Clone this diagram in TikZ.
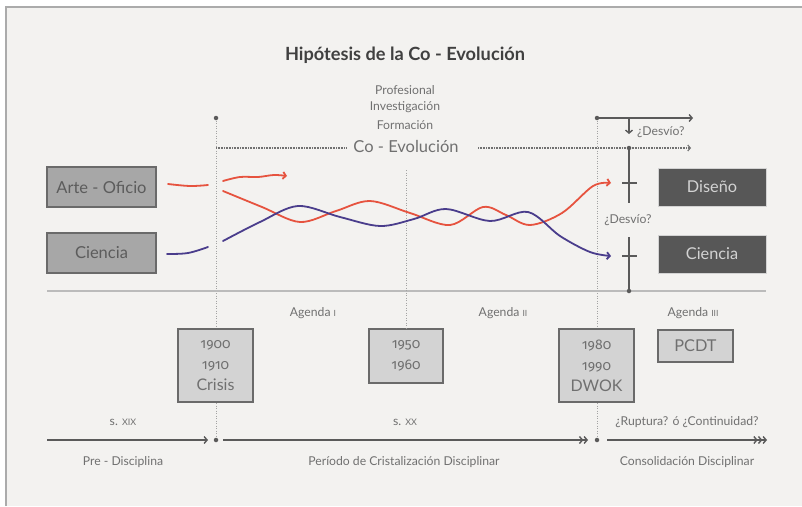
\documentclass[tikz,border=0pt]{standalone}
\usepackage{fontspec}
\setmainfont{Lato}
\newfontfamily\oldfig{Fira Sans}[RawFeature=+onum]
\usetikzlibrary{arrows.meta}

\definecolor{bg}{HTML}{F3F2F0}
\definecolor{framec}{HTML}{ABABAB}
\definecolor{ink}{HTML}{5C5C5C}
\definecolor{soft}{HTML}{707070}
\definecolor{titlec}{HTML}{404040}
\definecolor{redc}{HTML}{E6533F}
\definecolor{bluec}{HTML}{4A3D8C}
\definecolor{boxmid}{HTML}{A7A7A7}
\definecolor{boxlight}{HTML}{D3D3D3}
\definecolor{boxdark}{HTML}{575757}
\definecolor{boxedge}{HTML}{6A6A6A}
\definecolor{dotc}{HTML}{A3A3A3}
\definecolor{linec}{HTML}{5A5A5A}
\definecolor{rulec}{HTML}{BBBBBB}

\newcommand{\fs}[2]{\fontsize{#1}{#2}\selectfont}

\tikzset{
  midbox/.style={draw=boxedge, line width=1.4pt, fill=boxmid, text=ink,
    minimum width=109pt, minimum height=40pt, inner sep=0pt, font=\fs{16.5}{18}},
  darkbox/.style={draw=boxlight, line width=0.8pt, fill=boxdark, text=boxlight,
    minimum width=108pt, minimum height=38pt, inner sep=0pt, font=\fs{16.3}{18}},
  yearbox/.style={draw=boxedge, line width=1.4pt, fill=boxlight, text=soft,
    minimum width=75pt, inner sep=0pt, align=center, font=\oldfig\fs{14}{21}},
  lbl/.style={text=soft, inner sep=0pt, font=\fs{12.2}{14}},
  vdots/.style={dotc, line width=0.9pt, dash pattern=on 0.9pt off 1.6pt},
  hdots/.style={soft, line width=1.1pt, dash pattern=on 0.8pt off 0.8pt},
  solidline/.style={linec, line width=1.4pt},
  barb/.style={-{Straight Barb[length=3pt,width=7pt]}},
  curve/.style={line width=1.8pt, line cap=round},
  pin/.style={circle, fill=linec, inner sep=0pt, minimum size=4.5pt},
}

\begin{document}
\begin{tikzpicture}[x=1pt,y=-1pt]
  % canvas and frame
  \useasboundingbox (0,0) rectangle (802,506);
  \fill[white] (0,0) rectangle (802,506);
  \fill[bg] (6,7) rectangle (802,506);
  \draw[framec, line width=2pt] (6,506) -- (6,7) -- (802,7);

  % title and top labels
  \node[text=titlec, font=\bfseries\fs{18.2}{20}] (title) at (405,55) {Hipótesis de la Co - Evolución};
  \node[lbl] (prof) at (405,90) {Profesional};
  \node[lbl] (inv) at (405,107) {Investigación};
  \node[lbl] (form) at (405,125) {Formación};
  \node[text=soft, inner sep=0pt, font=\fs{16.5}{18}] (coevo) at (406,146) {Co - Evolución};

  % period markers
  \coordinate (tl) at (216,118);
  \coordinate (bl) at (216,440);
  \coordinate (tr) at (597,118);
  \coordinate (br) at (597,440);
  \coordinate (tm) at (406,170);
  \draw[vdots] (tl) -- (bl);
  \draw[vdots] (tr) -- (br);

  % separator rule
  \coordinate (ruleL) at (47,291);
  \coordinate (ruleR) at (766,291);
  \draw[rulec, line width=1.5pt] (ruleL) -- (ruleR);

  % co-evolution dotted band
  \coordinate (cdL) at (216,148);
  \coordinate (cdM) at (346,148);
  \coordinate (cdN) at (478,148);
  \coordinate (cdR) at (691,148);
  \draw[hdots] (cdL) -- (cdM);
  \draw[hdots, -{Straight Barb[length=2.5pt,width=6pt]}] (cdN) -- (cdR);

  % boxes
  \node[midbox] (arte) at (101.5,187) {Arte - Oficio};
  \node[midbox] (cienL) at (101.5,253) {Ciencia};
  \node[darkbox] (diseno) at (712,187) {Diseño};
  \node[darkbox] (cienR) at (712,254) {Ciencia};

  \node[yearbox, minimum height=73pt] (y1900) at (215.5,365.5) {1900\\1910\\{\fs{16}{20.5}\rmfamily Crisis}};
  \node[yearbox, minimum height=54pt, minimum width=74pt] (y1950) at (406,356) {1950\\1960};
  \node[yearbox, minimum height=73pt] (y1980) at (596.5,365.5) {1980\\1990\\{\fs{16}{20.5}\rmfamily DWOK}};
  \node[yearbox, minimum height=32pt, font=\fs{16.3}{18}] (pcdt) at (695.5,346) {PCDT};
  \draw[vdots] (tm) -- (y1950.north);

  % deviation branch
  \coordinate (brEnd) at (693,118);
  \draw[solidline, barb] (tr) -- (brEnd);
  \coordinate (dvA) at (629,118);
  \coordinate (dvB) at (629,134);
  \draw[solidline, barb] (dvA) -- (dvB);
  \node[lbl, anchor=west] (desvio1) at (637,132) {¿Desvío?};

  \coordinate (vA) at (629,148);
  \coordinate (vB) at (629,203);
  \coordinate (vC) at (629,237);
  \coordinate (vD) at (629,291);
  \draw[solidline] (vA) -- (vB);
  \draw[solidline] (vC) -- (vD);
  \draw[solidline] (622,183) -- (637,183);
  \draw[solidline] (622,256) -- (637,256);
  \node[pin] (pA) at (vA) {};
  \node[pin] (pD) at (vD) {};
  \node[pin] (pTL) at (tl) {};
  \node[pin] (pTR) at (tr) {};
  \node[lbl] (desvio2) at (628,220) {¿Desvío?};

  % trajectories
  \draw[curve, redc] plot[smooth, tension=0.6] coordinates {(168,184) (190,186) (208,185)};
  \draw[curve, bluec] plot[smooth, tension=0.6] coordinates {(167,254) (188,253) (208,247)};
  \draw[curve, redc, barb] plot[smooth, tension=0.6] coordinates {(223,181) (240,177) (258,177) (274,175) (287,176)};
  \draw[curve, redc, barb] plot[smooth, tension=0.55] coordinates {
    (223,191) (262,207) (300,222) (336,211) (370,201) (410,213) (450,225)
    (483,207) (506,215) (530,225) (562,213) (593,186) (611,183)};
  \draw[curve, bluec, barb] plot[smooth, tension=0.55] coordinates {
    (223,241) (260,222) (298,206) (340,217) (380,226) (414,219) (446,209)
    (490,221) (528,212) (560,236) (590,252) (611,256)};

  % agendas
  \node[lbl] (ag1) at (313,313) {Agenda {\fs{8.5}{9}I}};
  \node[lbl] (ag2) at (503,313) {Agenda {\fs{8.5}{9}II}};
  \node[lbl] (ag3) at (693,313) {Agenda {\fs{8.5}{9}III}};

  % time axis
  \coordinate (a0) at (47,440);
  \coordinate (a1) at (208,440);
  \coordinate (a2) at (223,440);
  \coordinate (a3) at (588,440);
  \coordinate (a4) at (607,440);
  \coordinate (a5) at (767,440);
  \draw[solidline, -{Straight Barb[length=3pt,width=7pt]}] (a0) -- (a1);
  \draw[solidline, -{Straight Barb[length=3pt,width=7pt]Straight Barb[length=3pt,width=7pt]}] (a2) -- (a3);
  \draw[solidline, -{Straight Barb[length=3pt,width=7pt]Straight Barb[length=3pt,width=7pt]Straight Barb[length=3pt,width=7pt]}] (a4) -- (a5);
  \node[pin] (pBL) at (bl) {};
  \node[pin] (pBR) at (br) {};

  \node[lbl] (c19) at (123,422) {s. {\fs{9}{10}XIX}};
  \node[lbl] (c20) at (405,422) {s. {\fs{9}{10}XX}};
  \node[lbl] (rup) at (687,422) {¿Ruptura? ó ¿Continuidad?};
  \node[lbl] (pre) at (123,462) {Pre - Disciplina};
  \node[lbl] (per) at (404,462) {Período de Cristalización Disciplinar};
  \node[lbl] (cons) at (687,462) {Consolidación Disciplinar};
\end{tikzpicture}
\end{document}
